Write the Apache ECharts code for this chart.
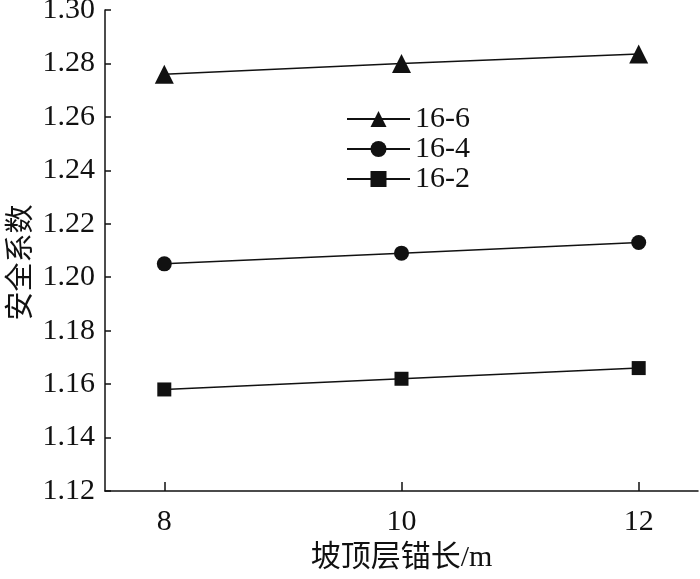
<!DOCTYPE html>
<html>
<head>
<meta charset="utf-8">
<script src="https://cdn.jsdelivr.net/npm/echarts@6/dist/echarts.min.js"></script>
<style>
  html, body { margin: 0; padding: 0; background: #fff; }
  #chart { width: 700px; height: 579px; }
</style>
</head>
<body>
<div id="chart"></div>
<script>
// 坡顶层锚长 (m)
const anchorLengths = [8, 10, 12];
// 安全系数
const series166 = [1.276, 1.280, 1.2835];
const series164 = [1.205, 1.209, 1.213];
const series162 = [1.158, 1.162, 1.166];
const seriesNames = ['16-6', '16-4', '16-2'];
const yTicks = { min: 1.12, max: 1.30, step: 0.02 };

const font = "'Liberation Serif', 'Noto Sans CJK SC', serif";
const ink = '#111';

function pairs(values) {
  return anchorLengths.map((x, i) => [x, values[i]]);
}

function makeSeries(name, values, symbol, size) {
  return {
    name,
    type: 'line',
    data: pairs(values),
    symbol,
    symbolSize: size,
    lineStyle: { color: ink, width: 1.5 },
    itemStyle: { color: ink },
    z: 3
  };
}

const chart = echarts.init(document.getElementById('chart'));
chart.setOption({
  animation: false,
  backgroundColor: '#fff',
  grid: { left: 105, right: 2, top: 10, bottom: 88, containLabel: false, outerBoundsMode: 'none' },
  legend: {
    orient: 'vertical',
    left: 341,
    top: 99,
    itemWidth: 63,
    itemHeight: 20,
    itemGap: 0,
    textStyle: { fontFamily: font, fontSize: 30, color: ink },
    data: seriesNames
  },
  xAxis: {
    type: 'value',
    min: 7.5,
    max: 12.5,
    name: '坡顶层锚长/m',
    nameLocation: 'middle',
    nameGap: 52,
    nameMoveOverlap: false,
    nameTextStyle: { fontFamily: font, fontSize: 30, color: ink },
    axisLine: { show: true, lineStyle: { color: ink, width: 1.5 } },
    axisTick: { show: true, inside: true, length: 9, lineStyle: { color: ink, width: 1.5 }, customValues: anchorLengths },
    axisLabel: { fontFamily: font, fontSize: 30, color: ink, margin: 16, customValues: anchorLengths },
    splitLine: { show: false }
  },
  yAxis: {
    type: 'value',
    min: yTicks.min,
    max: yTicks.max,
    interval: yTicks.step,
    name: '安全系数',
    nameLocation: 'middle',
    nameGap: 68,
    nameMoveOverlap: false,
    nameTextStyle: { fontFamily: font, fontSize: 29, color: ink, padding: [0, 24, 0, 0] },
    axisLine: { show: true, lineStyle: { color: ink, width: 1.5 } },
    axisTick: { show: true, inside: true, length: 6, lineStyle: { color: ink, width: 1.5 } },
    axisLabel: {
      fontFamily: font, fontSize: 30, color: ink, margin: 10,
      formatter: v => v.toFixed(2)
    },
    splitLine: { show: false }
  },
  series: [
    makeSeries(seriesNames[0], series166, 'triangle', 19),
    makeSeries(seriesNames[1], series164, 'circle', 15),
    makeSeries(seriesNames[2], series162, 'rect', 14)
  ]
});
</script>
</body>
</html>
